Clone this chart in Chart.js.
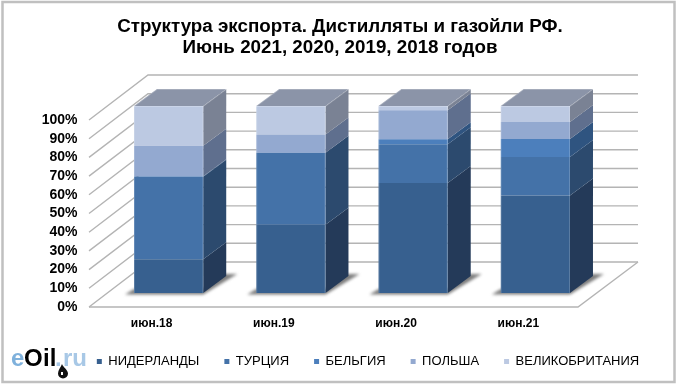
<!DOCTYPE html>
<html><head><meta charset="utf-8">
<style>html,body{margin:0;padding:0;background:#fff}canvas{display:block}</style>
<script src="https://cdn.jsdelivr.net/npm/chart.js@4/dist/chart.umd.min.js"></script>
</head><body><canvas id="c" width="680" height="385"></canvas>
<script>
const categories = ['июн.18','июн.19','июн.20','июн.21'];
const seriesNames = ['НИДЕРЛАНДЫ','ТУРЦИЯ','БЕЛЬГИЯ','ПОЛЬША','ВЕЛИКОБРИТАНИЯ'];
const netherlands = [18,36.5,58.8,52.2];
const turkey = [44.1,38.5,20.7,20.5];
const belgium = [0.3,0,2.7,9.7];
const poland = [16.4,9.7,15.5,9];
const uk = [21.2,15.3,2.3,8.6];
const tickValues = [0,10,20,30,40,50,60,70,80,90,100];
const titleLines = ['Структура экспорта. Дистилляты и газойли РФ.','Июнь 2021, 2020, 2019, 2018 годов'];
const frontColors = ['#37608f','#4472a8','#4c7fbc','#93a9d0','#bcc9e2'];
const sideColors = ['#243a59','#2c4a6e','#2f5480','#5f6f8e','#7a8294'];
const topColor = '#8b94a8';
const gridColor = '#b4b4b4';
const FONT = '"Liberation Sans", Arial, sans-serif';

const scene = {
  id:'scene',
  afterLayout(chart){
    const l=chart.legend; l.left=54; l.right=682; const h=l.bottom-l.top; l.top=330; l.bottom=330+h;
  },
  beforeDraw(chart){
    const c=chart.ctx, y=chart.scales.y;
    const a=chart.chartArea;
    const fx0=a.left-18.5, fx1=a.right-18.5, bx0=a.left+40.5, bx1=a.right+41.5;
    c.save();
    c.strokeStyle='#c0c0c0'; c.lineWidth=2.5; c.strokeRect(2.5,2,672,380);
    c.strokeStyle=gridColor; c.lineWidth=1.4;
    tickValues.forEach(v=>{
      const p=y.getPixelForValue(v), fy=p+14, by=p-31;
      c.beginPath(); c.moveTo(fx0,fy); c.lineTo(bx0,by); c.lineTo(bx1,by); c.stroke();
    });
    const p0=y.getPixelForValue(0);
    c.beginPath(); c.moveTo(fx0,p0+14); c.lineTo(fx1,p0+14); c.lineTo(bx1,p0-31); c.stroke();
    const m0=chart.getDatasetMeta(0);
    c.filter='blur(1.5px)'; c.fillStyle='#7d7d7d';
    m0.data.forEach(el=>{
      const L=el.x-el.width/2,R=el.x+el.width/2,B=el.base;
      c.beginPath(); c.moveTo(L-9,B+1.5); c.lineTo(R,B+1.5); c.lineTo(R+34,B-19); c.lineTo(R+20,B-19); c.lineTo(R,B-4); c.lineTo(L,B-4); c.closePath(); c.fill();
    });
    c.filter='none';
    c.restore();
  },
  beforeDatasetsDraw(chart){
    const c=chart.ctx, dx=23, dy=17;
    c.save();
    chart.data.datasets.forEach((ds,i)=>{
      chart.getDatasetMeta(i).data.forEach(el=>{
        const R=el.x+el.width/2, T=el.y, B=el.base;
        if(Math.abs(B-T)<0.1) return;
        c.fillStyle=sideColors[i];
        c.beginPath(); c.moveTo(R,T); c.lineTo(R+dx,T-dy); c.lineTo(R+dx,B-dy); c.lineTo(R,B); c.closePath(); c.fill();
      });
    });
    const last=chart.getDatasetMeta(chart.data.datasets.length-1);
    last.data.forEach(el=>{
      const L=el.x-el.width/2,R=el.x+el.width/2,T=el.y;
      c.fillStyle=topColor;
      c.beginPath(); c.moveTo(L,T); c.lineTo(L+dx,T-dy); c.lineTo(R+dx,T-dy); c.lineTo(R,T); c.closePath(); c.fill();
    });
    c.restore();
  },
  afterDatasetsDraw(chart){
    const c=chart.ctx, dx=23, dy=17;
    c.save();
    c.lineWidth=1;
    chart.getDatasetMeta(0).data.forEach((el,k)=>{
      const L=el.x-el.width/2,R=el.x+el.width/2,B=el.base;
      const T=chart.getDatasetMeta(chart.data.datasets.length-1).data[k].y;
      c.strokeStyle='rgba(255,255,255,0.16)';
      c.beginPath(); c.moveTo(L+.5,T); c.lineTo(L+.5,B); c.moveTo(R-.5,T); c.lineTo(R-.5,B); c.stroke();
      c.strokeStyle='rgba(255,255,255,0.22)';
      c.beginPath(); c.moveTo(L,T+.5); c.lineTo(L+dx,T-dy+.5); c.lineTo(R+dx,T-dy+.5); c.moveTo(L,T+.5); c.lineTo(R,T+.5); c.lineTo(R+dx,T-dy+.5); c.stroke();
    });
    c.restore();
  },
  afterDraw(chart){
    const c=chart.ctx;
    c.save();
    c.textBaseline='alphabetic'; c.textAlign='left';
    c.font='bold 24px '+FONT;
    c.fillStyle='#7fb1dc'; c.fillText('e',11,366);
    c.fillStyle='#000'; c.fillText('O',24,366); c.fillText('il',43,366);
    c.fillStyle='#a8c8e6'; c.fillText('.',55,366); c.fillText('ru',63,366);
    c.fillStyle='#111';
    c.beginPath(); c.moveTo(62,364); c.bezierCurveTo(63,367,68,370,68,373.5); c.arc(63,373.5,5,0,Math.PI); c.bezierCurveTo(58,370,61,367,62,364); c.fill();
    c.fillStyle='#fff'; c.fillRect(61,372,2,3);
    c.restore();
  }
};

new Chart(document.getElementById('c'),{
  type:'bar',
  data:{labels:categories,datasets:[netherlands,turkey,belgium,poland,uk].map((d,i)=>({
    label:seriesNames[i],data:d,backgroundColor:frontColors[i],borderWidth:0,
    categoryPercentage:0.566,barPercentage:1,pointStyle:'rect'}))},
  options:{
    responsive:false,animation:false,
    layout:{padding:0},
    plugins:{
      tooltip:{enabled:false},
      title:{display:true,text:titleLines,color:'#000',font:{family:FONT,size:18.8,weight:'bold',lineHeight:1.117},padding:{top:16,bottom:48}},
      legend:{position:'bottom',labels:{font:{family:FONT,size:13},color:'#000',usePointStyle:true,boxWidth:5,boxHeight:5,padding:25}}
    },
    scales:{
      x:{stacked:true,grid:{display:false,drawTicks:false},border:{display:false},
        afterFit(s){s.height=44},
        ticks:{padding:23,labelOffset:-17,color:'#000',font:{family:FONT,size:12,weight:'bold'},maxRotation:0}},
      y:{stacked:true,min:0,max:100,grid:{display:false,drawTicks:false},border:{display:false},
        afterFit(s){s.width=107.5},
        ticks:{stepSize:10,padding:30,labelOffset:14,color:'#000',font:{family:FONT,size:14,weight:'bold'},callback:v=>v+'%',autoSkip:false}},
      spacer:{position:'right',grid:{display:false,drawTicks:false},border:{display:false},ticks:{display:false},
        afterFit(s){s.width=83.5}}
    }
  },
  plugins:[scene]
});
</script></body></html>
